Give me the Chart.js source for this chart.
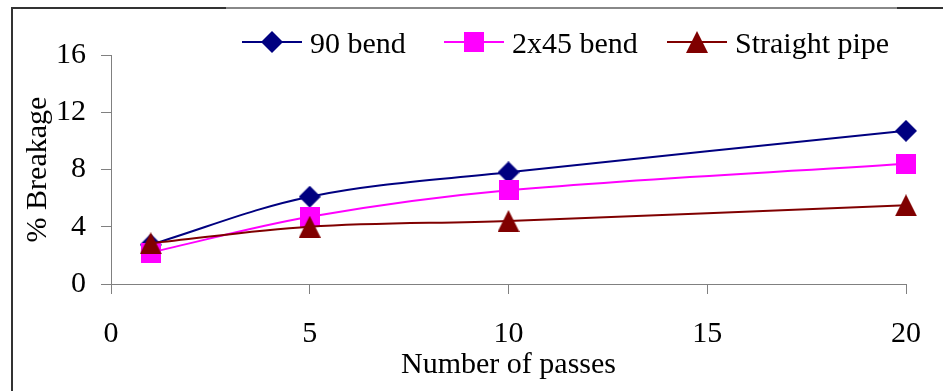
<!DOCTYPE html>
<html>
<head>
<meta charset="utf-8">
<script src="https://cdn.jsdelivr.net/npm/chart.js@4/dist/chart.umd.min.js"></script>
<style>
  html, body { margin: 0; padding: 0; background: #ffffff; }
  #wrap { position: relative; width: 943px; height: 391px; overflow: hidden; }
  canvas { display: block; }
</style>
</head>
<body>
<div id="wrap"><canvas id="c" width="943" height="391"></canvas></div>
<script>
// ---- data ----
const passes = [1, 5, 10, 20];
const bend90 = [2.75, 6.1, 7.8, 10.7];
const bend2x45 = [2.2, 4.7, 6.55, 8.4];
const straightPipe = [2.85, 4.0, 4.4, 5.5];
const seriesNames = ['90 bend', '2x45 bend', 'Straight pipe'];
const xTicks = [0, 5, 10, 15, 20];
const yTicks = [0, 4, 8, 12, 16];

const FONT = "'Liberation Serif', 'Times New Roman', serif";

// ---- marker images ----
function makeMarker(kind, color) {
  const c = document.createElement('canvas');
  const w = kind === 'square' ? 20 : 22, h = kind === 'square' ? 20 : 22;
  c.width = w; c.height = h;
  const g = c.getContext('2d');
  g.fillStyle = color;
  g.beginPath();
  if (kind === 'diamond') {
    g.moveTo(w / 2, 0); g.lineTo(w, h / 2); g.lineTo(w / 2, h); g.lineTo(0, h / 2);
  } else if (kind === 'square') {
    g.rect(0, 0, w, h);
  } else {
    g.moveTo(w / 2, 0); g.lineTo(w, h); g.lineTo(0, h);
  }
  g.closePath();
  g.fill();
  return c;
}
const colors = ['#000080', '#FF00FF', '#800000'];
const markers = [makeMarker('diamond', colors[0]), makeMarker('square', colors[1]), makeMarker('triangle', colors[2])];

function pts(ys) { return passes.map((x, i) => ({ x: x, y: ys[i] })); }
const seriesValues = [bend90, bend2x45, straightPipe];

const datasets = seriesValues.map((vals, i) => ({
  label: seriesNames[i],
  data: pts(vals),
  borderColor: colors[i],
  backgroundColor: colors[i],
  borderWidth: 2,
  pointStyle: markers[i],
  pointRadius: 6,
  pointHoverRadius: 6,
  tension: 0.35,
  clip: false,
  order: 2 - i
}));

// ---- plugins ----
const framePlugin = {
  id: 'frame',
  beforeDraw(chart) {
    const ctx = chart.ctx;
    ctx.save();
    ctx.fillStyle = '#333333';
    ctx.fillRect(11, 7, 2, 391);
    ctx.fillRect(11, 7, 215, 2);
    ctx.fillStyle = '#888888';
    ctx.fillRect(226, 7, 671, 2);
    ctx.fillStyle = '#333333';
    ctx.fillRect(897, 7, 46, 2);
    ctx.restore();
  }
};

const legendX = [242, 444, 667];
const legendPlugin = {
  id: 'lineLegend',
  afterDraw(chart) {
    const ctx = chart.ctx;
    const y = 42;
    ctx.save();
    chart.data.datasets.forEach((ds, i) => {
      const sx = legendX[i];
      ctx.strokeStyle = ds.borderColor;
      ctx.lineWidth = 2;
      ctx.beginPath();
      ctx.moveTo(sx, y);
      ctx.lineTo(sx + 60, y);
      ctx.stroke();
      const m = ds.pointStyle;
      ctx.drawImage(m, sx + 30 - m.width / 2, y - m.height / 2);
      ctx.fillStyle = '#000000';
      ctx.font = '30px ' + FONT;
      ctx.textBaseline = 'alphabetic';
      ctx.textAlign = 'left';
      ctx.fillText(ds.label, sx + 68, 53);
    });
    ctx.restore();
  }
};

new Chart(document.getElementById('c'), {
  type: 'line',
  data: { datasets: datasets },
  options: {
    responsive: false,
    animation: false,
    events: [],
    layout: { padding: { left: 0, right: 36, top: 55, bottom: 0 } },
    plugins: {
      legend: { display: false },
      tooltip: { enabled: false }
    },
    scales: {
      x: {
        type: 'linear',
        min: 0, max: 20,
        afterBuildTicks(scale) { scale.ticks = xTicks.map(v => ({ value: v })); },
        afterFit(scale) { scale.height = 107; },
        ticks: { color: '#000000', font: { family: FONT, size: 30 }, padding: 22, maxRotation: 0, autoSkip: false },
        grid: { drawOnChartArea: false, drawTicks: true, tickLength: 10, color: '#808080', lineWidth: 1 },
        border: { display: true, color: '#808080', width: 1 },
        title: { display: true, text: 'Number of passes', color: '#000000', font: { family: FONT, size: 30 }, padding: { top: 0, bottom: 8 } }
      },
      y: {
        type: 'linear',
        min: 0, max: 16,
        afterBuildTicks(scale) { scale.ticks = yTicks.map(v => ({ value: v })); },
        afterFit(scale) { scale.width = 111; },
        ticks: { color: '#000000', font: { family: FONT, size: 30 }, padding: 15, autoSkip: false },
        grid: { drawOnChartArea: false, drawTicks: true, tickLength: 10, color: '#808080', lineWidth: 1 },
        border: { display: true, color: '#808080', width: 1 },
        title: { display: true, text: '% Breakage', color: '#000000', font: { family: FONT, size: 30 }, padding: { top: 20, bottom: 0 } }
      }
    }
  },
  plugins: [framePlugin, legendPlugin]
});
</script>
</body>
</html>
